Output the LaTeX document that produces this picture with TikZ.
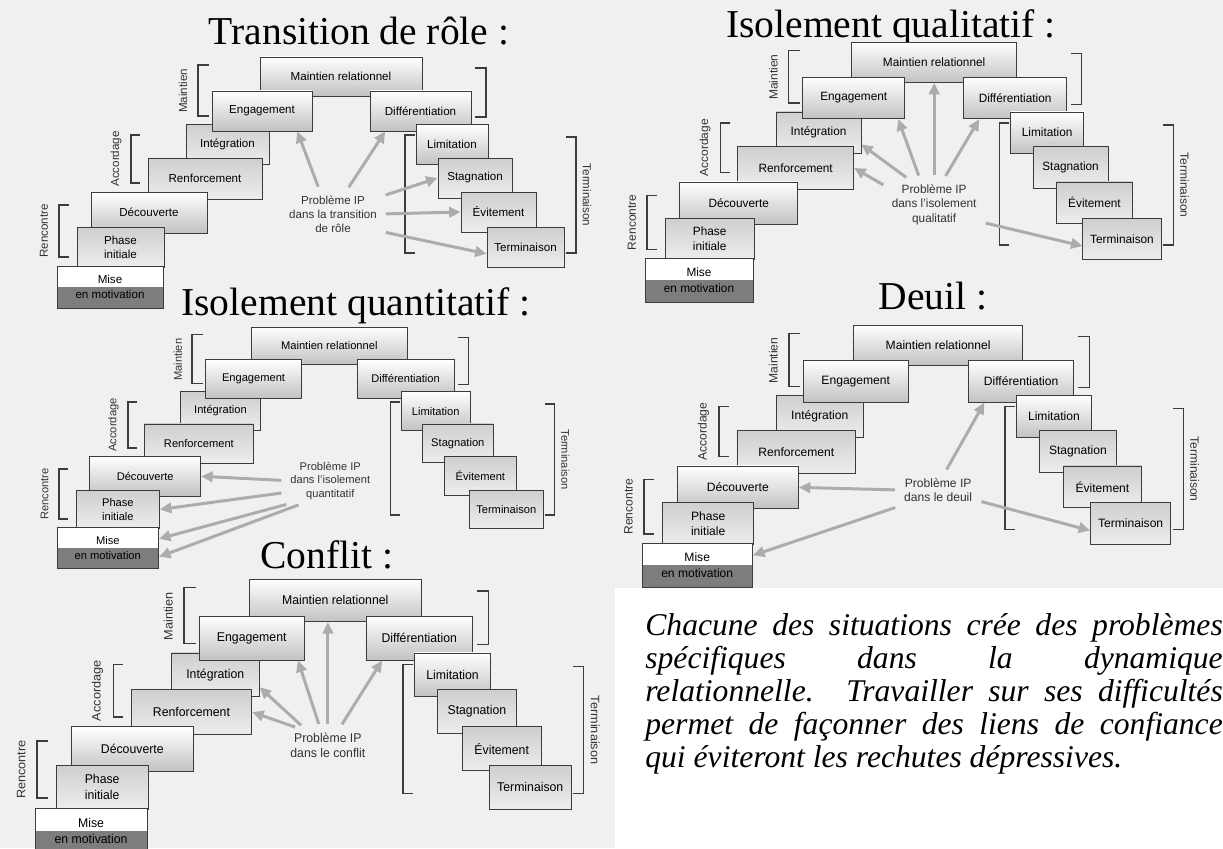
\documentclass[tikz,border=0pt]{standalone}
\usepackage{fontspec}
\setmainfont{Liberation Serif}
\newfontfamily\boxfont{Liberation Sans}
\usepackage{tikz}
\tikzset{>=latex}
\usetikzlibrary{arrows.meta}
\usetikzlibrary{calc}
\definecolor{edgegray}{RGB}{60,60,60}
\definecolor{flowgray}{RGB}{172,172,172}
\definecolor{band}{RGB}{125,125,125}
\definecolor{paper}{RGB}{240,240,240}
\tolerance=9999
\hbadness=10000

% one staircase, in the coordinates of the first panel
\newcommand{\stairs}[1]{%
  \node[stepbox={162}{39}] (#1-mr) at (341,76.5) {Maintien relationnel};
  \node[darkstep={83}{40}] (#1-int) at (227.5,144.5) {Intégration};
  \node[stepbox={100}{40}] (#1-eng) at (262,111) {Engagement};
  \node[darkstep={114}{41}] (#1-renf) at (205,178.5) {Renforcement};
  \node[stepbox={116}{41}] (#1-dec) at (149,212.5) {Découverte};
  \node[darkstep={87}{40}] (#1-phase) at (120.5,247) {Phase\\initiale};
  \node[misebox] (#1-mise) at (110,287) {Mise\\en motivation};
  \node[stepbox={101}{40}] (#1-diff) at (420.5,111) {Différentiation};
  \node[stepbox={72}{40}] (#1-lim) at (452,144.5) {Limitation};
  \node[darkstep={74}{40}] (#1-stag) at (475,178) {Stagnation};
  \node[darkstep={75}{40}] (#1-evit) at (498.5,212) {Évitement};
  \node[darkstep={77}{40}] (#1-term) at (525.5,247) {Terminaison};
  % brackets
  \draw[bracket] (209,65) -- (198,65) -- (198,116) -- (209,116);
  \draw[bracket] (475,68) -- (486,68) -- (486,117) -- (475,117);
  \draw[bracket] (140,135) -- (131,135) -- (131,183) -- (140,183);
  \draw[bracket] (69,205) -- (59,205) -- (59,257) -- (69,257);
  \draw[bracket] (415,135) -- (405,135) -- (405,253) -- (415,253);
  \draw[bracket] (566,137) -- (576,137) -- (576,253) -- (566,253);
  \node[phaselabel, rotate=90] (#1-maint) at (183,91) {Maintien};
  \node[phaselabel, rotate=90] (#1-acc) at (116,159) {Accordage};
  \node[phaselabel, rotate=90] (#1-renc) at (44,231) {Rencontre};
  \node[phaselabel, rotate=-90] (#1-termi) at (587,195) {Terminaison};
}

\begin{document}
\begin{tikzpicture}[x=0.02cm, y=-0.02cm]
    \tikzset{stairbox/.style={draw=edgegray, thin, align=center, inner sep=1pt,
        font=\boxfont\fontsize{6.6}{8}\selectfont}}
    \tikzset{stepbox/.style 2 args={stairbox, top color=white, bottom color=gray!48,
        minimum width=#1*0.02cm, minimum height=#2*0.02cm}}
    \tikzset{darkstep/.style 2 args={stairbox, top color=gray!38, bottom color=gray!14,
        minimum width=#1*0.02cm, minimum height=#2*0.02cm}}
    \tikzset{misebox/.style={stairbox, fill=white, minimum width=106*0.02cm, minimum height=42*0.02cm,
        font=\boxfont\fontsize{6.6}{8.6}\selectfont,
        path picture={\fill[band] (path picture bounding box.west) rectangle (path picture bounding box.south east);}}}
    \tikzset{bracket/.style={edgegray, line width=0.8pt}}
    \tikzset{phaselabel/.style={font=\boxfont\fontsize{6.6}{8}\selectfont, text=black!80, inner sep=0pt}}
    \tikzset{problem/.style={font=\boxfont\fontsize{6.6}{8}\selectfont, text=black!80, align=center, inner sep=2pt}}
    \tikzset{flow/.style={-{Triangle[length=2.3mm,width=2.1mm]}, line width=1.7pt, flowgray, shorten <=3pt}}
    \tikzset{title/.style={font=\fontsize{22.5}{24}\selectfont, anchor=base, inner sep=0pt}}
    \tikzset{note/.style={text width=11.55cm, align=justify, inner sep=0pt, font=\itshape}}

    \useasboundingbox (0,0) rectangle (1223,848);
    \clip (0,0) rectangle (1223,848);
    \fill[paper] (0,0) rectangle (1223,848);
    \fill[white] (615,588) rectangle (1223,848);

    % Transition de role
    \node[title] (t1) at (359,45) {Transition de rôle :};
    \begin{scope}
        \stairs{p1}
        \node[problem] (p1-ip) at (333,214) {Problème IP\\dans la transition\\de rôle};
        \draw[flow] (p1-ip.120) -- (p1-eng.-30);
        \draw[flow] (p1-ip.60) -- (p1-diff.-150);
        \draw[flow] (p1-ip.20) -- (p1-stag.west);
        \draw[flow] (p1-ip.east) -- (p1-evit.west);
        \draw[flow] (p1-ip.-20) -- (p1-term.-170);
    \end{scope}

    % Isolement qualitatif
    \node[title] (t2) at (891,38) {Isolement qualitatif :};
    \begin{scope}[shift={(587,-17)}, xscale=1.018, yscale=1.036, transform shape]
        \stairs{p2}
        \node[problem] (p2-ip) at (341,214) {Problème IP\\dans l’isolement\\qualitatif};
        \draw[flow] (p2-ip.160) -- (p2-renf.east);
        \draw[flow] (p2-ip.135) -- (p2-int.-15);
        \draw[flow] (p2-ip.120) -- (p2-eng.-25);
        \draw[flow] (p2-ip.north) -- (p2-mr.south);
        \draw[flow] (p2-ip.70) -- (p2-diff.-150);
        \draw[flow] (p2-ip.-20) -- (p2-term.-170);
    \end{scope}

    % Isolement quantitatif
    \node[title] (t3) at (356,315) {Isolement quantitatif :};
    \begin{scope}[shift={(2.3,272.3)}, xscale=0.959, yscale=0.96, transform shape]
        \stairs{p3}
        \node[problem] (p3-ip) at (342,217) {Problème IP\\dans l’isolement\\quantitatif};
        \draw[flow] (p3-ip.west) -- (p3-dec.east);
        \draw[flow] (p3-ip.-165) -- (p3-phase.east);
        \draw[flow] (p3-ip.-150) -- (p3-mise.10);
        \draw[flow] (p3-ip.-140) -- (p3-mise.-10);
    \end{scope}

    % Deuil
    \node[title] (t4) at (933,309) {Deuil :};
    \begin{scope}[shift={(582.5,265.5)}, xscale=1.043, yscale=1.044, transform shape]
        \stairs{p4}
        \node[problem] (p4-ip) at (341,215) {Problème IP\\dans le deuil};
        \draw[flow] (p4-ip.70) -- (p4-diff.-150);
        \draw[flow] (p4-ip.west) -- (p4-dec.east);
        \draw[flow] (p4-ip.south west) -- (p4-mise.10);
        \draw[flow] (p4-ip.-15) -- (p4-term.-170);
    \end{scope}

    % Conflit
    \node[title] (t5) at (327,568) {Conflit :};
    \begin{scope}[shift={(-25.2,516.6)}, xscale=1.057, yscale=1.095, transform shape]
        \stairs{p5}
        \node[problem] (p5-ip) at (334,209) {Problème IP\\dans le conflit};
        \draw[flow] (p5-ip.150) -- (p5-renf.east);
        \draw[flow] (p5-ip.145) -- (p5-int.-15);
        \draw[flow] (p5-ip.115) -- (p5-eng.-25);
        \draw[flow] (p5-ip.north) -- (p5-ip.north |- p5-mr.south);
        \draw[flow] (p5-ip.55) -- (p5-diff.-150);
    \end{scope}

    \node[note, anchor=north west] (note) at (645,613) {\fontsize{18}{18.8}\selectfont
        Chacune des situations crée des problèmes\linebreak
        spécifiques dans la dynamique\linebreak
        relationnelle. Travailler sur ses difficultés\linebreak
        permet de façonner des liens de confiance\linebreak
        qui éviteront les rechutes dépressives.\par};
\end{tikzpicture}
\end{document}
